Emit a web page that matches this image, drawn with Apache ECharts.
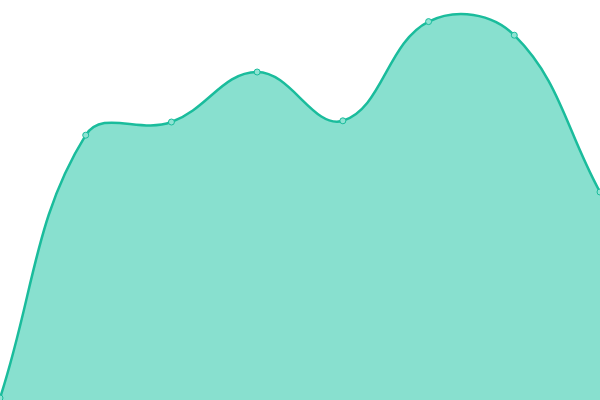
<!DOCTYPE html>
<html>
<head>
<meta charset="utf-8">
<script src="https://cdn.jsdelivr.net/npm/echarts@6/dist/echarts.min.js"></script>
<style>
  html, body { margin: 0; padding: 0; background: #fff; }
  #chart { width: 600px; height: 400px; }
</style>
</head>
<body>
<div id="chart"></div>
<script>
// data
var categories = ["1", "2", "3", "4", "5", "6", "7", "8"];
var values = [0.5, 66.2, 69.5, 82, 69.8, 94.6, 91.2, 52];

var TENSION = 0.4;
var LINE_COLOR = "#1abc9c";
var AREA_COLOR = "#88e0cf";

// cardinal-like spline (no clamping between points, unlike echarts' own smooth)
function splinePath(pts, bottom) {
  var n = pts.length;
  var cps = [];
  for (var i = 0; i < n; i++) {
    var prev = pts[Math.max(i - 1, 0)];
    var cur = pts[i];
    var next = pts[Math.min(i + 1, n - 1)];
    var d01 = Math.hypot(cur[0] - prev[0], cur[1] - prev[1]);
    var d12 = Math.hypot(next[0] - cur[0], next[1] - cur[1]);
    var s01 = d01 / (d01 + d12) || 0;
    var s12 = d12 / (d01 + d12) || 0;
    var fa = TENSION * s01, fb = TENSION * s12;
    cps.push({
      prev: [cur[0] - fa * (next[0] - prev[0]), cur[1] - fa * (next[1] - prev[1])],
      next: [cur[0] + fb * (next[0] - prev[0]), cur[1] + fb * (next[1] - prev[1])]
    });
  }
  var d = "M" + pts[0][0] + " " + pts[0][1];
  for (var j = 1; j < n; j++) {
    var a = cps[j - 1].next, b = cps[j].prev;
    d += " C" + a[0] + " " + a[1] + " " + b[0] + " " + b[1] + " " + pts[j][0] + " " + pts[j][1];
  }
  if (bottom != null) {
    d += " L" + pts[n - 1][0] + " " + bottom + " L" + pts[0][0] + " " + bottom + " Z";
  }
  return d;
}

var myChart = echarts.init(document.getElementById("chart"));
var option = {
  animation: false,
  grid: { left: 0, right: 0, top: 0, bottom: 0 },
  xAxis: {
    type: "category",
    data: categories,
    boundaryGap: false,
    show: false
  },
  yAxis: {
    type: "value",
    min: 0,
    max: 100,
    show: false
  },
  series: [
    {
      type: "custom",
      data: [0],
      z: 1,
      silent: true,
      renderItem: function (params, api) {
        var pts = values.map(function (v, i) {
          return api.coord([i, v]);
        });
        var bottom = api.coord([0, 0])[1];
        return {
          type: "group",
          children: [
            {
              type: "path",
              shape: { pathData: splinePath(pts, bottom) },
              style: { fill: AREA_COLOR, stroke: null }
            },
            {
              type: "path",
              shape: { pathData: splinePath(pts, null) },
              style: { fill: null, stroke: LINE_COLOR, lineWidth: 2.5 }
            }
          ]
        };
      }
    },
    {
      type: "line",
      data: values,
      z: 3,
      symbol: "circle",
      symbolSize: 6,
      lineStyle: { opacity: 0 },
      itemStyle: { color: "#8fe3d3", borderColor: LINE_COLOR, borderWidth: 1 }
    }
  ]
};
myChart.setOption(option);
</script>
</body>
</html>
